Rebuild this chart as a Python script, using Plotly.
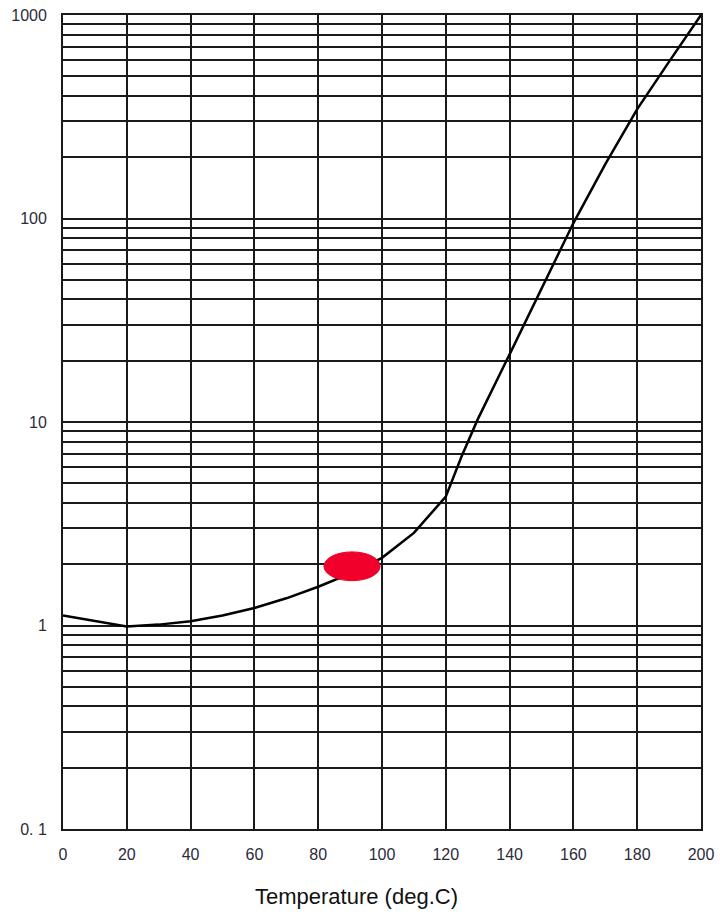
import plotly.graph_objects as go

temps = [0, 10, 20, 30, 40, 50, 60, 70, 80, 90, 100, 110, 120, 125, 130, 140, 150, 160, 170, 180, 190, 200]
values = [1.12, 1.05, 0.99, 1.01, 1.05, 1.12, 1.22, 1.36, 1.55, 1.8, 2.15, 2.85, 4.3, 6.8, 10.3,
          21.5, 45, 95, 185, 345, 590, 1000]

# red ellipse marker (data units)
marker_x0, marker_x1 = 81.8, 99.4
marker_y0, marker_y1 = 1.66, 2.30

y_major = [0.1, 1, 10, 100, 1000]
y_major_text = ["0. 1", "1", "10", "100", "1000"]
x_ticks = list(range(0, 201, 20))
y_minor = [m * d for d in [0.1, 1, 10, 100] for m in range(2, 10)]

fig = go.Figure()
fig.add_trace(go.Scatter(x=temps, y=values, mode="lines",
                         line=dict(color="black", width=2.5), hoverinfo="skip"))

grid_col = "#1a1a1a"
tick_font = dict(family="Liberation Sans", size=16, color="#2b2b3a")
fig.update_xaxes(range=[0, 200], tickvals=x_ticks, ticktext=[str(v) for v in x_ticks],
                 showgrid=True, gridcolor=grid_col, gridwidth=1.8,
                 showline=True, linecolor=grid_col, linewidth=1.8, mirror=True,
                 ticks="outside", ticklen=10, tickcolor="rgba(0,0,0,0)",
                 tickfont=tick_font, zeroline=False, automargin=False,
                 ticklabeloverflow="allow")
fig.update_yaxes(type="log", range=[-1, 3], tickvals=y_major, ticktext=y_major_text,
                 showgrid=True, gridcolor=grid_col, gridwidth=1.6,
                 minor=dict(tickvals=y_minor, showgrid=True, gridcolor=grid_col, gridwidth=1.6, ticks=""),
                 showline=True, linecolor=grid_col, linewidth=1.8, mirror=True,
                 ticks="outside", ticklen=11, tickcolor="rgba(0,0,0,0)",
                 tickfont=tick_font, zeroline=False, automargin=False,
                 ticklabeloverflow="allow")

fig.add_shape(type="circle", xref="x", yref="y",
              x0=marker_x0, x1=marker_x1, y0=marker_y0, y1=marker_y1,
              fillcolor="#f0002a", line=dict(color="#e8002a", width=1), layer="above")

fig.add_annotation(text="Temperature (deg.C)", xref="paper", yref="paper",
                   x=(356 - 63) / 638, y=(829 - 896) / 814, xanchor="center", yanchor="middle",
                   showarrow=False, font=dict(family="Liberation Sans", size=22, color="#111"))

fig.update_layout(width=720, height=914, margin=dict(l=63, r=19, t=15, b=85),
                  plot_bgcolor="white", paper_bgcolor="white", showlegend=False)

# remove the browser's default 8px body margin so the figure fills the window exactly
fig.write_html("out.html", config={"displayModeBar": False},
               post_script="document.body.style.margin='0';document.body.style.overflow='hidden';")
